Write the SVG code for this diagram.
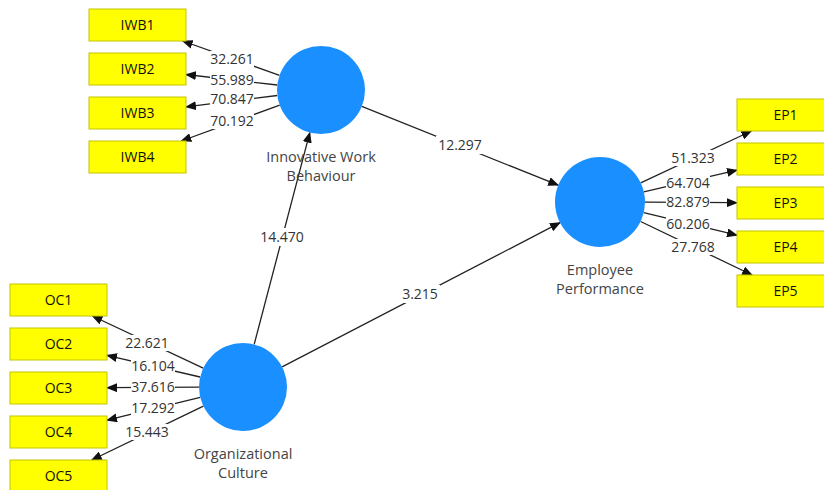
<svg xmlns="http://www.w3.org/2000/svg" width="824" height="490" viewBox="0 0 824 490">
<defs>
<marker id="arr" markerUnits="userSpaceOnUse" markerWidth="11" markerHeight="9" refX="10" refY="4.5" orient="auto">
<path d="M0,0 L11,4.5 L0,9 z" fill="#111"/>
</marker>
<style>
.ln{stroke:#222;stroke-width:1.3;fill:none;marker-end:url(#arr)}
.bx{fill:#ffff00;stroke:#c4c400;stroke-width:1}
.bt{font-family:"Open Sans","Noto Sans",sans-serif;font-size:14px;fill:#111;text-anchor:middle}
.lv{fill:#1a8fff}
.lt{font-family:"Open Sans","Noto Sans",sans-serif;font-size:14.5px;fill:#444;text-anchor:middle}
.num{font-family:"Open Sans","Noto Sans",sans-serif;font-size:14px;fill:#333;text-anchor:middle}
.bg{fill:#fff}
</style>
</defs>
<rect width="824" height="490" fill="#fff"/>
<g id="connectors">
<path class="ln" d="M279.5,75.3 L182.7,41"/>
<path class="ln" d="M277.3,85 L186,74.5"/>
<path class="ln" d="M277.3,95.5 L186,106.9"/>
<path class="ln" d="M279.7,105.1 L181.3,141"/>
<path class="ln" d="M203.2,368.2 L92.4,316"/>
<path class="ln" d="M200.1,377 L107,355.3"/>
<path class="ln" d="M199,387.2 L107,387.7"/>
<path class="ln" d="M200.2,397.4 L107,420.2"/>
<path class="ln" d="M203.4,406.1 L91.7,460"/>
<path class="ln" d="M640.7,182.9 L751.4,131"/>
<path class="ln" d="M643.8,191.8 L737,170.2"/>
<path class="ln" d="M645,202.2 L737,202.7"/>
<path class="ln" d="M643.7,212.6 L737,235.2"/>
<path class="ln" d="M640.6,221.5 L752.1,275"/>
<path class="ln" d="M361.8,106.4 L558.2,185.2"/>
<path class="ln" d="M254.2,344.4 L309.8,132.6"/>
<path class="ln" d="M282.1,366.8 L560,222.7"/>
<rect class="bg" x="210" y="51" width="44" height="16"/><text class="num" x="232" y="64">32.261</text>
<rect class="bg" x="210" y="72" width="44" height="16"/><text class="num" x="232" y="85">55.989</text>
<rect class="bg" x="210" y="91" width="44" height="16"/><text class="num" x="232" y="104">70.847</text>
<rect class="bg" x="210" y="113" width="44" height="16"/><text class="num" x="232" y="126">70.192</text>
<rect class="bg" x="125" y="335" width="44" height="16"/><text class="num" x="147" y="348">22.621</text>
<rect class="bg" x="131" y="358" width="44" height="16"/><text class="num" x="153" y="371">16.104</text>
<rect class="bg" x="131" y="379" width="44" height="16"/><text class="num" x="153" y="392">37.616</text>
<rect class="bg" x="131" y="400" width="44" height="16"/><text class="num" x="153" y="413">17.292</text>
<rect class="bg" x="125" y="424" width="44" height="16"/><text class="num" x="147" y="437">15.443</text>
<rect class="bg" x="671" y="150" width="44" height="16"/><text class="num" x="693" y="163">51.323</text>
<rect class="bg" x="666" y="175" width="44" height="16"/><text class="num" x="688" y="188">64.704</text>
<rect class="bg" x="666" y="194" width="44" height="16"/><text class="num" x="688" y="207">82.879</text>
<rect class="bg" x="666" y="216" width="44" height="16"/><text class="num" x="688" y="229">60.206</text>
<rect class="bg" x="671" y="239" width="44" height="16"/><text class="num" x="693" y="252">27.768</text>
<rect class="bg" x="436" y="136" width="48" height="18"/><text class="num" x="460" y="150">12.297</text>
<rect class="bg" x="258" y="228" width="48" height="18"/><text class="num" x="282" y="242">14.470</text>
<rect class="bg" x="400" y="285" width="40" height="18"/><text class="num" x="420" y="299">3.215</text>
</g>
<g id="IWB">
<circle class="lv" cx="321" cy="90" r="44"/>
<text class="lt" x="321" y="162">Innovative Work</text>
<text class="lt" x="321" y="181">Behaviour</text>
</g>
<g id="OC">
<circle class="lv" cx="243" cy="387" r="44"/>
<text class="lt" x="243" y="459">Organizational</text>
<text class="lt" x="243" y="478">Culture</text>
</g>
<g id="EP">
<circle class="lv" cx="600" cy="202" r="45"/>
<text class="lt" x="600" y="275">Employee</text>
<text class="lt" x="600" y="294">Performance</text>
</g>
<g id="IWB1"><rect class="bx" x="89" y="9" width="97" height="32"/><text class="bt" x="137.5" y="30">IWB1</text></g>
<g id="IWB2"><rect class="bx" x="89" y="53" width="97" height="32"/><text class="bt" x="137.5" y="74">IWB2</text></g>
<g id="IWB3"><rect class="bx" x="89" y="97" width="97" height="32"/><text class="bt" x="137.5" y="118">IWB3</text></g>
<g id="IWB4"><rect class="bx" x="89" y="141" width="97" height="32"/><text class="bt" x="137.5" y="162">IWB4</text></g>
<g id="OC1"><rect class="bx" x="10" y="284" width="97" height="32"/><text class="bt" x="58.5" y="305">OC1</text></g>
<g id="OC2"><rect class="bx" x="10" y="328" width="97" height="32"/><text class="bt" x="58.5" y="349">OC2</text></g>
<g id="OC3"><rect class="bx" x="10" y="372" width="97" height="32"/><text class="bt" x="58.5" y="393">OC3</text></g>
<g id="OC4"><rect class="bx" x="10" y="416" width="97" height="32"/><text class="bt" x="58.5" y="437">OC4</text></g>
<g id="OC5"><rect class="bx" x="10" y="460" width="97" height="32"/><text class="bt" x="58.5" y="481">OC5</text></g>
<g id="EP1"><rect class="bx" x="737" y="99" width="97" height="32"/><text class="bt" x="785.5" y="120">EP1</text></g>
<g id="EP2"><rect class="bx" x="737" y="143" width="97" height="32"/><text class="bt" x="785.5" y="164">EP2</text></g>
<g id="EP3"><rect class="bx" x="737" y="187" width="97" height="32"/><text class="bt" x="785.5" y="208">EP3</text></g>
<g id="EP4"><rect class="bx" x="737" y="231" width="97" height="32"/><text class="bt" x="785.5" y="252">EP4</text></g>
<g id="EP5"><rect class="bx" x="737" y="275" width="97" height="32"/><text class="bt" x="785.5" y="296">EP5</text></g>
</svg>
